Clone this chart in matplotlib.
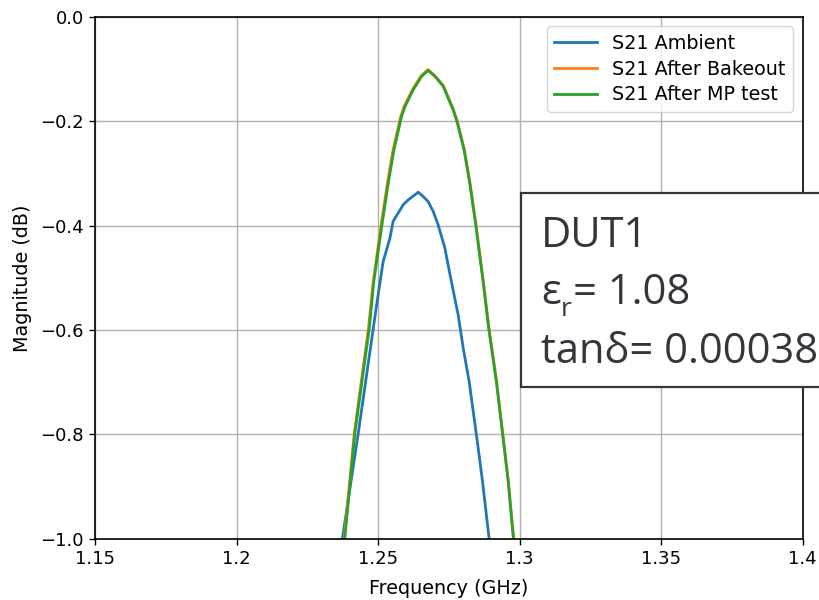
#!/usr/bin/env python3
"""S21 magnitude of DUT1 around the 1.265 GHz resonance."""

import matplotlib

matplotlib.use("Agg")
import matplotlib.pyplot as plt
from matplotlib.patches import Rectangle

OUTPUT = "out.png"

# S21 Ambient
freq_ambient = [1.2360, 1.2375, 1.2430, 1.2483, 1.2495, 1.2518, 1.2542, 1.2553, 1.2589,
                1.2606, 1.2642, 1.2659, 1.2677, 1.2695, 1.2712, 1.2736, 1.2759, 1.2783,
                1.2801, 1.2822, 1.2838, 1.2854, 1.2869, 1.2891, 1.2904]
mag_ambient = [-1.05, -0.996, -0.798, -0.597, -0.552, -0.469, -0.424, -0.392, -0.360,
               -0.351, -0.336, -0.344, -0.354, -0.373, -0.398, -0.443, -0.507, -0.571,
               -0.635, -0.699, -0.763, -0.827, -0.890, -0.993, -1.05]

# S21 After Bakeout
freq_bakeout = [1.2371, 1.2381, 1.2416, 1.2466, 1.2483, 1.2512, 1.2533, 1.2553, 1.2580,
                1.2592, 1.2622, 1.2652, 1.2677, 1.2701, 1.2731, 1.2766, 1.2780, 1.2805,
                1.2825, 1.2845, 1.2872, 1.2892, 1.2919, 1.2940, 1.2960, 1.2978, 1.2988]
mag_bakeout = [-1.05, -0.996, -0.798, -0.597, -0.507, -0.394, -0.319, -0.255, -0.191,
               -0.172, -0.139, -0.113, -0.101, -0.113, -0.132, -0.177, -0.200, -0.255,
               -0.319, -0.394, -0.507, -0.597, -0.699, -0.798, -0.890, -0.993, -1.05]

# S21 After MP test
freq_mp = [1.2373, 1.2383, 1.2418, 1.2469, 1.2485, 1.2515, 1.2536, 1.2556, 1.2583,
           1.2595, 1.2624, 1.2654, 1.2677, 1.2701, 1.2730, 1.2765, 1.2779, 1.2804,
           1.2824, 1.2844, 1.2871, 1.2891, 1.2918, 1.2940, 1.2960, 1.2977, 1.2987]
mag_mp = [-1.05, -0.996, -0.798, -0.597, -0.507, -0.394, -0.319, -0.255, -0.191,
          -0.172, -0.140, -0.114, -0.103, -0.114, -0.133, -0.178, -0.201, -0.255,
          -0.319, -0.394, -0.507, -0.597, -0.699, -0.798, -0.890, -0.993, -1.05]

x_ticks = [1.15, 1.2, 1.25, 1.3, 1.35, 1.4]
x_tick_labels = ["1.15", "1.2", "1.25", "1.3", "1.35", "1.4"]
y_ticks = [-1.0, -0.8, -0.6, -0.4, -0.2, 0.0]

TEXT_COLOR = "#33373b"


def main() -> None:
    fig = plt.figure(figsize=(8.19, 6.0), dpi=100)
    ax = fig.add_axes([0.116, 0.102, 0.864, 0.870])

    ax.plot(freq_ambient, mag_ambient, color="#1f77b4", lw=2.0, label="S21 Ambient")
    ax.plot(freq_bakeout, mag_bakeout, color="#ff7f0e", lw=2.0, label="S21 After Bakeout")
    ax.plot(freq_mp, mag_mp, color="#2ca02c", lw=2.0, label="S21 After MP test")

    ax.set_xlim(1.15, 1.4)
    ax.set_ylim(-1.0, 0.0)
    ax.set_xticks(x_ticks)
    ax.set_xticklabels(x_tick_labels)
    ax.set_yticks(y_ticks)
    ax.tick_params(labelsize=13, length=4.5, width=1.0)
    ax.grid(True, color="#b0b0b0", lw=1.0)
    ax.set_xlabel("Frequency (GHz)", fontsize=13.8, labelpad=8)
    ax.set_ylabel("Magnitude (dB)", fontsize=13.8, labelpad=6)
    for spine in ax.spines.values():
        spine.set_linewidth(1.2)
    ax.legend(loc="upper right", fontsize=13.8, handlelength=2.2, labelspacing=0.35,
              borderaxespad=0.5)

    # annotation box, runs off the right edge like the original slide
    box = Rectangle((521 / 819, 213 / 600), 0.5, 194 / 600, transform=fig.transFigure,
                    facecolor="white", edgecolor=TEXT_COLOR, lw=1.6, clip_on=False, zorder=10)
    fig.add_artist(box)
    font = dict(family="Open Sans", color=TEXT_COLOR, zorder=11)
    fig.text(541 / 819, 353 / 600, "DUT1", fontsize=30, va="baseline", **font)
    fig.text(541 / 819, 296 / 600, "ε", fontsize=30, va="baseline", **font)
    fig.text(561 / 819, 284 / 600, "r", fontsize=19, va="baseline", **font)
    fig.text(573 / 819, 296 / 600, "= 1.08", fontsize=30, va="baseline", **font)
    fig.text(541 / 819, 237 / 600, "tanδ= 0.00038", fontsize=30, va="baseline", **font)

    fig.savefig(OUTPUT, dpi=100, facecolor="white")
    plt.close(fig)


if __name__ == "__main__":
    main()
